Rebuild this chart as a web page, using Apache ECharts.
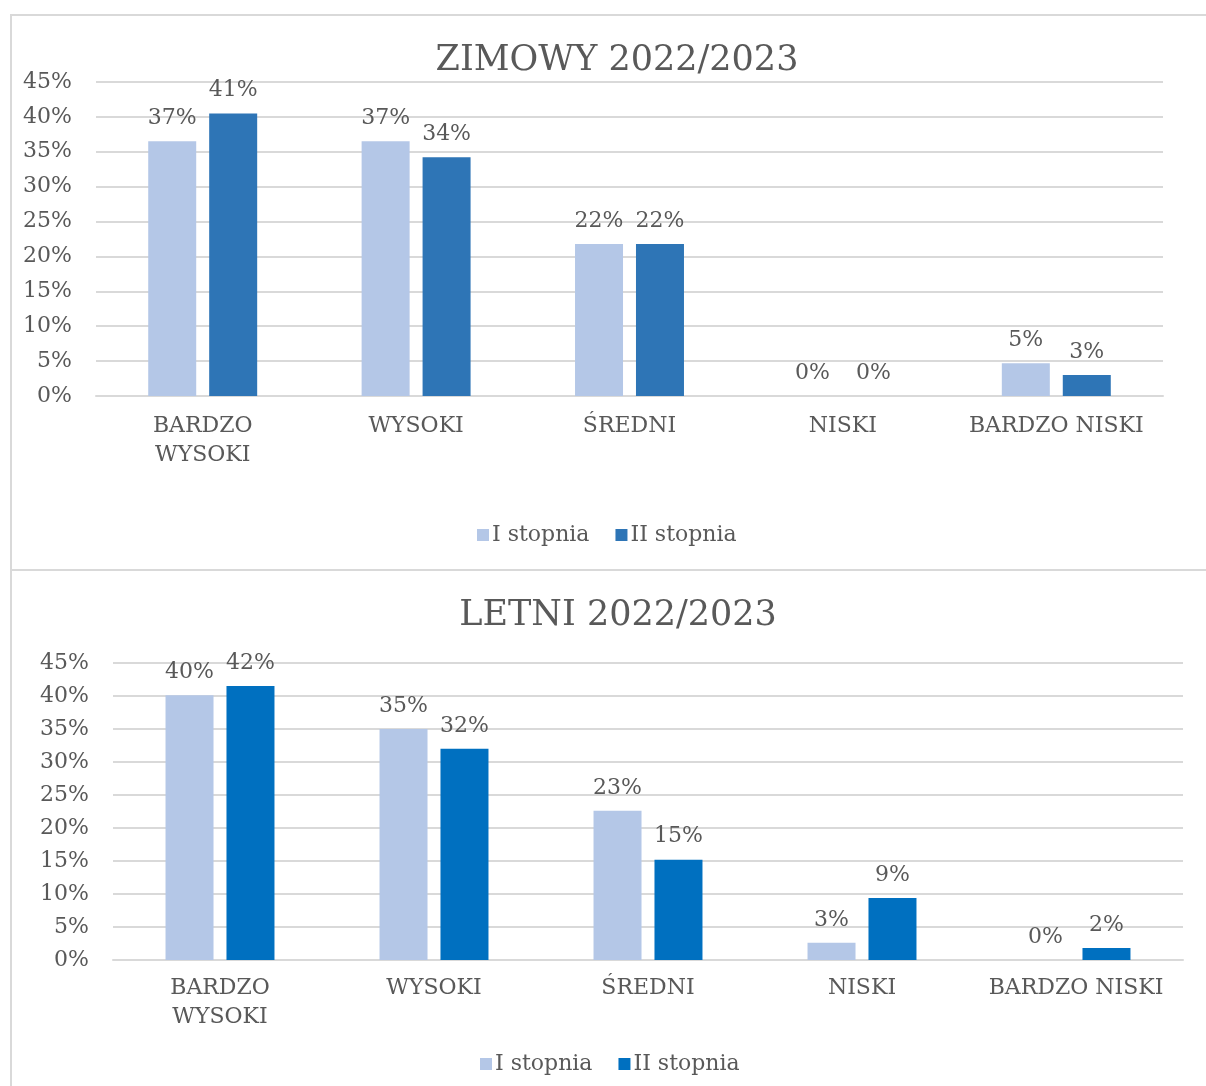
<!DOCTYPE html>
<html>
<head>
<meta charset="utf-8">
<script src="https://cdn.jsdelivr.net/npm/echarts@6/dist/echarts.min.js"></script>
<style>
  html, body { margin: 0; padding: 0; background: #fff; overflow: hidden; }
  .frame { position: absolute; border: 2px solid #d9d9d9; border-right: none; }
  .chart { position: absolute; left: 0; width: 1206px; }
</style>
</head>
<body>
<div class="frame" style="left:10px; top:14px; width:1200px; height:553px;"></div>
<div class="frame" style="left:10px; top:569px; width:1200px; height:530px;"></div>
<div id="chartZima" class="chart" style="top:0; height:568px;"></div>
<div id="chartLato" class="chart" style="top:568px; height:518px;"></div>

<script>
// kategorie (oś X)
const categories = ['BARDZO\nWYSOKI', 'WYSOKI', 'ŚREDNI', 'NISKI', 'BARDZO NISKI'];
const seriesNames = ['I stopnia', 'II stopnia'];
const yTicks = [0, 5, 10, 15, 20, 25, 30, 35, 40, 45];

// semestr zimowy 2022/2023 (%)
const zimowyI = [36.5, 36.5, 21.8, 0, 4.7];
const zimowyII = [40.5, 34.2, 21.8, 0, 3.0];

// semestr letni 2022/2023 (%)
const letniI = [40.1, 35.0, 22.6, 2.6, 0];
const letniII = [41.5, 32.0, 15.2, 9.4, 1.8];

const FONT = 'DejaVu Serif';
const TXT = '#595959';

function drawColumnChart(id, cfg) {
  const chart = echarts.init(document.getElementById(id));
  const colors = ['#B4C7E7', cfg.dark];
  chart.setOption({
    animation: false,
    textStyle: { fontFamily: FONT },
    title: {
      text: cfg.title,
      left: cfg.titleX,
      top: cfg.titleY,
      textAlign: 'center',
      textStyle: { fontFamily: FONT, fontSize: 35, fontWeight: 'normal', color: TXT }
    },
    legend: {
      top: cfg.legendY,
      left: cfg.legendX,
      itemWidth: 12,
      itemHeight: 12,
      itemGap: 26,
      icon: 'rect',
      textStyle: { fontFamily: FONT, fontSize: 22, color: TXT, padding: [0, 0, 0, -2] },
      data: seriesNames.map((n, i) => ({ name: n, itemStyle: { color: colors[i] } }))
    },
    grid: cfg.grid,
    xAxis: {
      type: 'category',
      data: categories,
      axisTick: { show: false },
      axisLine: { lineStyle: { color: '#d9d9d9', width: 2 } },
      axisLabel: {
        interval: 0,
        margin: cfg.xMargin,
        fontFamily: FONT,
        fontSize: 22,
        lineHeight: 29,
        color: TXT
      }
    },
    yAxis: {
      type: 'value',
      min: yTicks[0],
      max: yTicks[yTicks.length - 1],
      interval: 5,
      axisLine: { show: false },
      axisTick: { show: false },
      splitLine: { lineStyle: { color: '#d9d9d9', width: 2 } },
      axisLabel: {
        margin: 24,
        fontFamily: FONT,
        fontSize: 22,
        color: TXT,
        formatter: '{value}%'
      }
    },
    series: [cfg.a, cfg.b].map((vals, i) => ({
      name: seriesNames[i],
      type: 'bar',
      data: vals,
      barWidth: 48,
      barGap: '27%',
      itemStyle: { color: colors[i] },
      label: {
        show: true,
        position: 'top',
        distance: 12,
        fontFamily: FONT,
        fontSize: 22,
        color: TXT,
        formatter: p => Math.round(p.value) + '%'
      }
    }))
  });
}

drawColumnChart('chartZima', {
  title: 'ZIMOWY 2022/2023',
  titleX: 612, titleY: 38,
  legendX: 472, legendY: 519,
  grid: { left: 96, right: 43, top: 82, bottom: 172 },
  xMargin: 16,
  dark: '#2E75B6',
  a: zimowyI, b: zimowyII
});

drawColumnChart('chartLato', {
  title: 'LETNI 2022/2023',
  titleX: 613, titleY: 25,
  legendX: 475, legendY: 480,
  grid: { left: 113, right: 23, top: 95, bottom: 126 },
  xMargin: 14,
  dark: '#0070C0',
  a: letniI, b: letniII
});
</script>
</body>
</html>
